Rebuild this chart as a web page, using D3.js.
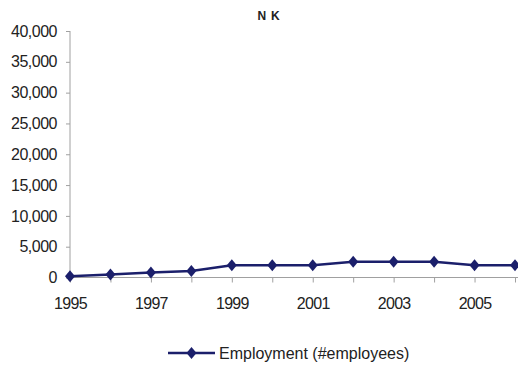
<!DOCTYPE html>
<html><head><meta charset="utf-8">
<script src="https://cdn.jsdelivr.net/npm/d3@7/dist/d3.min.js"></script>
<style>body{margin:0;background:#fff}svg{display:block}</style>
</head><body>
<script>
const years = [1995,1996,1997,1998,1999,2000,2001,2002,2003,2004,2005,2006];
const employment = [200,500,800,1050,2000,2000,2000,2550,2550,2550,2000,2000];
const yTicks = [0,5000,10000,15000,20000,25000,30000,35000,40000];
const xLabels = [1995,1997,1999,2001,2003,2005];
const title = "N K";
const seriesName = "Employment (#employees)";

const W=518,H=367;
const svg=d3.select("body").append("svg").attr("width",W).attr("height",H);
const font="Liberation Sans, Arial, sans-serif";
const x=d3.scaleLinear().domain([1995,2006]).range([70,515]);
const y=d3.scaleLinear().domain([0,40000]).range([277.5,31]);
const color="#1b1f6b", axisColor="#a0a0a0";

svg.append("text").attr("x",269).attr("y",20).attr("text-anchor","middle")
  .attr("font-family",font).attr("font-weight","bold").attr("font-size",12).attr("letter-spacing",0.8).attr("fill","#222").text(title);

const ya=svg.append("g").attr("transform","translate(70,0)")
  .call(d3.axisLeft(y).tickValues(yTicks).tickSize(4).tickPadding(9).tickFormat(d3.format(",")));
ya.select(".domain").attr("stroke",axisColor).attr("d","M0,"+y(40000)+"V"+y(0));
ya.selectAll(".tick line").attr("stroke",axisColor);
ya.selectAll("text").attr("font-family",font).attr("font-size",16).attr("fill","#222").attr("letter-spacing",-0.5);

const xa=svg.append("g").attr("transform","translate(0,"+y(0)+")")
  .call(d3.axisBottom(x).tickValues(years).tickSize(5).tickPadding(15).tickFormat(d=>xLabels.includes(d)?String(d):""));
xa.select(".domain").attr("stroke",axisColor).attr("d","M70,0H518");
xa.selectAll(".tick line").attr("stroke",axisColor);
xa.selectAll("text").attr("font-family",font).attr("font-size",16).attr("fill","#222").attr("letter-spacing",-0.7);

const line=d3.line().x((d,i)=>x(years[i])).y(d=>y(d));
svg.append("path").datum(employment).attr("d",line).attr("fill","none").attr("stroke",color).attr("stroke-width",2.5);
const diamond="M0,-6L5,0L0,6L-5,0Z";
svg.selectAll(".pt").data(employment).enter().append("path")
  .attr("transform",(d,i)=>"translate("+x(years[i])+","+y(d)+")").attr("d",diamond).attr("fill",color);

// legend
const lg=svg.append("g");
lg.append("line").attr("x1",168).attr("x2",215).attr("y1",353).attr("y2",353).attr("stroke",color).attr("stroke-width",2.5);
lg.append("path").attr("transform","translate(191.5,353)").attr("d",diamond).attr("fill",color);
lg.append("text").attr("x",219).attr("y",359).attr("font-family",font).attr("font-size",16).attr("fill","#222").text(seriesName);
</script>
</body></html>
